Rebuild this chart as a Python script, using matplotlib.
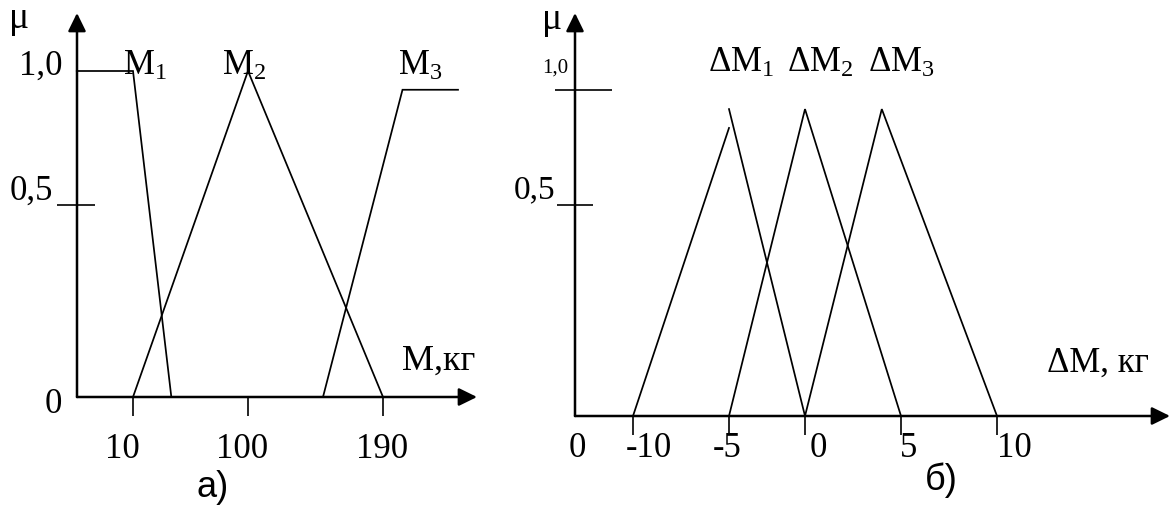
import numpy as np
import matplotlib
matplotlib.use("Agg")
import matplotlib.pyplot as plt
from matplotlib.transforms import blended_transform_factory

plt.rcParams['font.family'] = ['Liberation Serif', 'DejaVu Serif']
plt.rcParams['mathtext.fontset'] = 'custom'
plt.rcParams['mathtext.rm'] = 'Liberation Serif'
plt.rcParams['mathtext.it'] = 'Liberation Serif:italic'
plt.rcParams['mathtext.sf'] = 'Liberation Sans'

# ---------------- data: panel а) ----------------
m1_x = [-34, 10, 40]
m1_mu = [1.0, 1.0, 0.0]
m2_x = [10, 100, 190]
m2_mu = [0.0, 1.0, 0.0]
m3_x = [150, 203, 240]
m3_mu = [0.0, 0.93, 0.93]
a_xticks = [10, 100, 190]
a_xticklabels = ['10', '100', '190']
a_yticks = [0.5]
a_ylabels = ['1,0', '0,5', '0']
a_ylabel_vals = [1.0, 0.5, 0.0]
a_names = [r'$\mathrm{M}_1$', r'$\mathrm{M}_2$', r'$\mathrm{M}_3$']

# ---------------- data: panel б) ----------------
dm1_up_x = [-10, -5]
dm1_up_mu = [0.0, 0.835]
dm1_down_x = [-5, 0]
dm1_down_mu = [0.917, 0.0]
dm2_x = [-5, 0, 5]
dm2_mu = [0.0, 0.917, 0.0]
dm3_x = [0, 4, 10]
dm3_mu = [0.0, 0.917, 0.0]
b_xticks = [-10, -5, 0, 5, 10]
b_xticklabels = ['-10', '-5', '0', '5', '10']
b_yticks = [1.0, 0.5]
b_ylabels = ['1,0', '0,5']
b_names = [r'$\Delta\mathrm{M}_1$', r'$\Delta\mathrm{M}_2$', r'$\Delta\mathrm{M}_3$']

W, H = 1171, 508
fig = plt.figure(figsize=(W / 100, H / 100), dpi=100)


def piecewise(vals, pos):
    vals = np.asarray(vals, float)
    pos = np.asarray(pos, float)
    s0 = (pos[1] - pos[0]) / (vals[1] - vals[0])
    s1 = (pos[-1] - pos[-2]) / (vals[-1] - vals[-2])
    V = np.concatenate([[vals[0] - 1e4], vals, [vals[-1] + 1e4]])
    P = np.concatenate([[pos[0] - 1e4 * s0], pos, [pos[-1] + 1e4 * s1]])
    return (lambda v: np.interp(v, V, P)), (lambda p: np.interp(p, P, V))


def make_axes(x0, x1, ytop, ybot, xvals, xpx, yvals, ypx):
    ax = fig.add_axes([x0 / W, (H - ybot) / H, (x1 - x0) / W, (ybot - ytop) / H])
    fx, ix = piecewise(xvals, xpx)
    fy, iy = piecewise(yvals, [H - p for p in ypx])
    ax.set_xscale('function', functions=(fx, ix))
    ax.set_yscale('function', functions=(fy, iy))
    ax.set_xlim(float(ix(x0)), float(ix(x1)))
    ax.set_ylim(float(iy(H - ybot)), float(iy(H - ytop)))
    for s in ax.spines.values():
        s.set_visible(False)
    ax.patch.set_visible(False)
    arrow = dict(arrowstyle='-|>,head_length=0.55,head_width=0.27', lw=1.8,
                 color='black', shrinkA=0, shrinkB=0, mutation_scale=20)
    ax.annotate('', xy=(1, 0), xytext=(0, 0), xycoords='axes fraction', arrowprops=arrow)
    ax.annotate('', xy=(0, 1), xytext=(0, 0), xycoords='axes fraction', arrowprops=arrow)
    ax.set_yticks([])
    ax.tick_params(axis='x', direction='out', length=14, width=1.2, labelbottom=False)
    ax.minorticks_off()
    ax._wpx = x1 - x0
    return ax


def ytick_line(ax, val, left_px, right_px):
    tr = blended_transform_factory(ax.transAxes, ax.transData)
    ax.plot([-left_px / ax._wpx, right_px / ax._wpx], [val, val], color='black',
            lw=1.2, transform=tr, clip_on=False, solid_capstyle='butt')


def label(ax, text, xy, off, size, ha='left', coords='data', **kw):
    ax.annotate(text, xy=xy, xycoords=coords, xytext=off, textcoords='offset pixels',
                ha=ha, va='baseline', fontsize=size, annotation_clip=False, **kw)


line_kw = dict(color='black', lw=1.25, clip_on=False, solid_joinstyle='miter')

# ---------------- panel а) ----------------
ax1 = make_axes(77, 477, 13, 397, [10, 100, 190], [133, 248, 383], [0, 0.5, 1.0], [397, 205, 71])
ax1.plot(m1_x, m1_mu, **line_kw)
ax1.plot(m2_x, m2_mu, **line_kw)
ax1.plot(m3_x, m3_mu, **line_kw)
ax1.set_xticks(a_xticks)
for v in a_yticks:
    ytick_line(ax1, v, 20, 18)
for t, lab, dx in zip(a_xticks, a_xticklabels, [-11, -6, -1]):
    label(ax1, lab, (t, 0), (dx, -61), 25, ha='center')
for lab, v, dx, dy in zip(a_ylabels, a_ylabel_vals, [-15, -24, -15], [-4, 5, -16]):
    label(ax1, lab, (0, v), (dx, dy), 25, ha='right', coords=('axes fraction', 'data'))
label(ax1, 'μ', (0, 1), (-58, -15), 27, ha='center', coords='axes fraction')
for name, px, py, dx in zip(a_names, [10, 100, 203], [1.0, 1.0, 0.93], [-10, -26, -5]):
    label(ax1, name, (px, py), (dx, -4 if py == 1.0 else 15), 25)
label(ax1, 'M,кг', (1, 0), (-75, 27), 26, coords='axes fraction')
ax1.annotate('а)', xy=(196 / W, (H - 497) / H), xycoords='figure fraction',
             ha='left', va='baseline', fontsize=26, family='Liberation Sans')

# ---------------- panel б) ----------------
ax2 = make_axes(575, 1170, 13, 416, [-10, -5, 0, 5, 10], [633, 729, 805, 901, 997],
                [0, 0.5, 1.0], [416, 205, 90])
ax2.plot(dm1_up_x, dm1_up_mu, **line_kw)
ax2.plot(dm1_down_x, dm1_down_mu, **line_kw)
ax2.plot(dm2_x, dm2_mu, **line_kw)
ax2.plot(dm3_x, dm3_mu, **line_kw)
ax2.set_xticks(b_xticks)
for v, l, r in zip(b_yticks, [20, 18], [37, 18]):
    ytick_line(ax2, v, l, r)
for t, lab, dx in zip(b_xticks, b_xticklabels, [16, -2, 13, 8, 17]):
    label(ax2, lab, (t, 0), (dx, -41), 25, ha='center')
label(ax2, '0', (0, 0), (2, -41), 25, ha='center', coords='axes fraction')
label(ax2, b_ylabels[0], (0, b_yticks[0]), (-7, 17), 15, ha='right', coords=('axes fraction', 'data'))
label(ax2, b_ylabels[1], (0, b_yticks[1]), (-20, 7), 24, ha='right', coords=('axes fraction', 'data'))
label(ax2, 'μ', (0, 1), (-23, -16), 27, ha='center', coords='axes fraction')
for name, px, dx in zip(b_names, [-5, 0, 4], [-21, -18, -14]):
    label(ax2, name, (px, 0.917), (dx, 37), 25)
label(ax2, 'ΔM, кг', (1, 0), (-123, 44), 25, coords='axes fraction')
ax2.annotate('б)', xy=(925 / W, (H - 490) / H), xycoords='figure fraction',
             ha='left', va='baseline', fontsize=26, family='Liberation Sans')

fig.savefig('out.png', dpi=100)
